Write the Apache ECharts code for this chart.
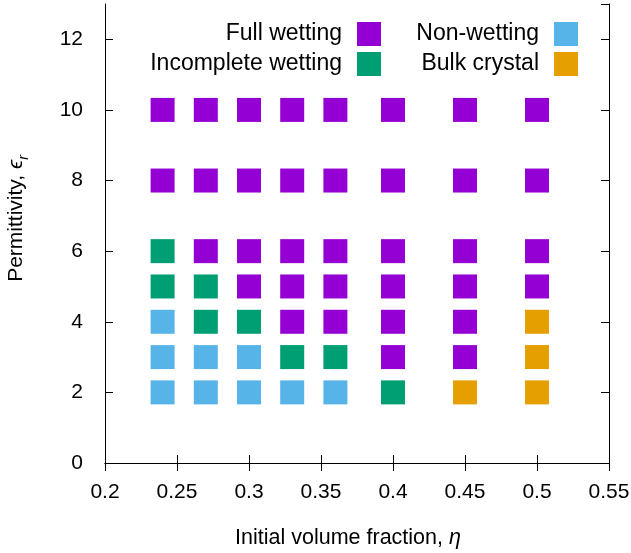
<!DOCTYPE html>
<html>
<head>
<meta charset="utf-8">
<title>Wetting phase diagram</title>
<script src="https://cdn.jsdelivr.net/npm/echarts@6/dist/echarts.min.js"></script>
<style>
  html, body { margin: 0; padding: 0; background: #fff; }
  #chart { width: 631px; height: 553px; }
</style>
</head>
<body>
<div id="chart"></div>
<script>
// Phase of each simulation: [initial volume fraction eta, permittivity eps_r]
const fullWetting = [
  [0.24, 8], [0.24, 10],
  [0.27, 6], [0.27, 8], [0.27, 10],
  [0.30, 5], [0.30, 6], [0.30, 8], [0.30, 10],
  [0.33, 4], [0.33, 5], [0.33, 6], [0.33, 8], [0.33, 10],
  [0.36, 4], [0.36, 5], [0.36, 6], [0.36, 8], [0.36, 10],
  [0.40, 3], [0.40, 4], [0.40, 5], [0.40, 6], [0.40, 8], [0.40, 10],
  [0.45, 3], [0.45, 4], [0.45, 5], [0.45, 6], [0.45, 8], [0.45, 10],
  [0.50, 5], [0.50, 6], [0.50, 8], [0.50, 10]
];
const incompleteWetting = [
  [0.24, 5], [0.24, 6], [0.27, 4], [0.27, 5], [0.30, 4],
  [0.33, 3], [0.36, 3], [0.40, 2]
];
const nonWetting = [
  [0.24, 2], [0.24, 3], [0.24, 4], [0.27, 2], [0.27, 3],
  [0.30, 2], [0.30, 3], [0.33, 2], [0.36, 2]
];
const bulkCrystal = [
  [0.45, 2], [0.50, 2], [0.50, 3], [0.50, 4]
];

const seriesNames = ['Full wetting', 'Incomplete wetting', 'Non-wetting', 'Bulk crystal'];
const seriesData = [fullWetting, incompleteWetting, nonWetting, bulkCrystal];
const seriesColors = ['#9400d3', '#009e73', '#56b4e9', '#e69f00'];

const xRange = { min: 0.2, max: 0.55, interval: 0.05 };
const yRange = { min: 0, max: 13, interval: 2 };

const FONT = '"Liberation Sans", Arial, Helvetica, sans-serif';

const chart = echarts.init(document.getElementById('chart'), null, { renderer: 'canvas' });

const axisLineStyle = { show: true, lineStyle: { color: '#000', width: 1 } };
const tickStyle = { show: true, inside: true, length: 8, lineStyle: { color: '#000', width: 1 } };

function legendAt(name, right, top) {
  return {
    data: [{ name: name, icon: 'rect' }],
    right: right,
    top: top,
    align: 'right',
    itemWidth: 24,
    itemHeight: 24,
    padding: 0,
    selectedMode: false,
    textStyle: {
      fontFamily: FONT,
      fontSize: 23,
      color: '#000',
      padding: [0, 10, 0, 0]
    }
  };
}

const option = {
  animation: false,
  backgroundColor: '#fff',
  grid: { left: 105, right: 22, top: 4, bottom: 90, containLabel: false, outerBoundsMode: 'none' },
  legend: [
    legendAt(seriesNames[0], 250, 22),
    legendAt(seriesNames[1], 250, 52),
    legendAt(seriesNames[2], 53, 22),
    legendAt(seriesNames[3], 53, 52)
  ],
  xAxis: [
    {
      type: 'value',
      position: 'bottom',
      min: xRange.min, max: xRange.max, interval: xRange.interval,
      axisLine: axisLineStyle,
      axisTick: tickStyle,
      splitLine: { show: false },
      axisLabel: {
        margin: 19,
        fontFamily: FONT, fontSize: 21, color: '#000',
        formatter: v => String(+v.toFixed(2))
      },
      name: 'Initial volume fraction, {i|η}',
      nameLocation: 'middle',
      nameGap: 64,
      nameTextStyle: {
        fontFamily: FONT, fontSize: 21.5, color: '#000',
        padding: [0, 18, 0, 0],
        rich: { i: { fontFamily: FONT, fontSize: 21.5, fontStyle: 'italic', color: '#000' } }
      }
    },
    {
      type: 'value',
      position: 'top',
      min: xRange.min, max: xRange.max, interval: xRange.interval,
      axisLine: axisLineStyle,
      axisTick: tickStyle,
      splitLine: { show: false },
      axisLabel: { show: false }
    }
  ],
  yAxis: [
    {
      type: 'value',
      position: 'left',
      min: yRange.min, max: yRange.max, interval: yRange.interval,
      axisLine: axisLineStyle,
      axisTick: tickStyle,
      splitLine: { show: false },
      axisLabel: { margin: 22, fontFamily: FONT, fontSize: 21, color: '#000', showMaxLabel: false },
      name: 'Permittivity, {i|ϵ}{s|r}',
      nameLocation: 'middle',
      nameGap: 74,
      nameTextStyle: {
        fontFamily: FONT, fontSize: 21, color: '#000', lineHeight: 30,
        padding: [0, 0, 0, 30],
        rich: {
          i: { fontFamily: FONT, fontSize: 21, fontStyle: 'italic', color: '#000', lineHeight: 30 },
          s: { fontFamily: FONT, fontSize: 14, fontStyle: 'italic', color: '#000', lineHeight: 14, verticalAlign: 'bottom' }
        }
      }
    },
    {
      type: 'value',
      position: 'right',
      min: yRange.min, max: yRange.max, interval: yRange.interval,
      axisLine: axisLineStyle,
      axisTick: tickStyle,
      splitLine: { show: false },
      axisLabel: { show: false }
    }
  ],
  series: seriesNames.map((name, k) => ({
    name: name,
    type: 'scatter',
    xAxisIndex: 0,
    yAxisIndex: 0,
    symbol: 'rect',
    symbolSize: 24,
    itemStyle: { color: seriesColors[k], opacity: 1 },
    emphasis: { disabled: true },
    data: seriesData[k]
  }))
};

chart.setOption(option);
</script>
</body>
</html>
